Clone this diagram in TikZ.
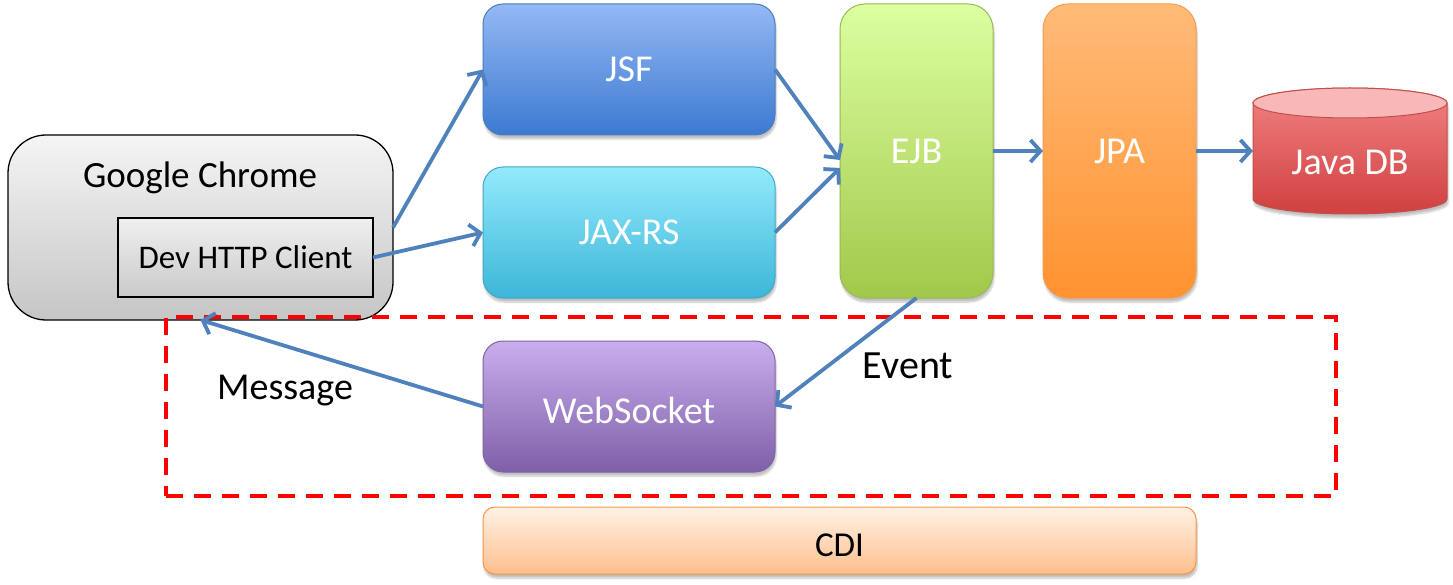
\documentclass[tikz,border=0pt]{standalone}
\usepackage{fontspec}
\setmainfont{Carlito}
\usetikzlibrary{arrows.meta,shadows.blur}
\definecolor{arrblue}{HTML}{4F81BD}
\tikzset{
  box/.style={rectangle, rounded corners=20pt, inner sep=0pt, outer sep=0pt, line width=1pt,
    blur shadow={shadow xshift=1pt, shadow yshift=-4pt, shadow blur steps=6, shadow opacity=25}},
  wtxt/.style={text=white, font=\fontsize{38}{44}\selectfont},
  btxt/.style={text=black, font=\fontsize{37}{44}\selectfont},
  arr/.style={draw=arrblue, line width=3.8pt, -{Straight Barb[length=10pt,width=22pt]}},
}
\begin{document}
\begin{tikzpicture}[x=1pt,y=1pt]
\useasboundingbox (0,0) rectangle (1453,-585);
% Google Chrome
\node[rectangle, rounded corners=38pt, draw=black, line width=1.3pt, top color=gray!8, bottom color=gray!45,
  minimum width=385pt, minimum height=185pt, inner sep=0pt, outer sep=0pt] (gc) at (200.5,-227.5) {};
\node[btxt, font=\fontsize{37}{42}\selectfont] (gctext) at (200,-178) {Google Chrome};
\node[rectangle, draw=black, line width=1.3pt, top color=gray!12, bottom color=gray!42,
  minimum width=255pt, minimum height=79pt, inner sep=0pt, outer sep=0pt,
  font=\fontsize{33}{38}\selectfont] (dev) at (245.5,-257.5) {Dev HTTP Client};
% JSF, JAX-RS
\node[box, draw={rgb,255:red,74;green,126;blue,187}, top color={rgb,255:red,148;green,184;blue,244}, bottom color={rgb,255:red,60;green,122;blue,208},
  minimum width=292pt, minimum height=131pt, wtxt] (jsf) at (629,-69.5) {JSF};
\node[box, draw={rgb,255:red,64;green,168;blue,200}, top color={rgb,255:red,147;green,234;blue,252}, bottom color={rgb,255:red,60;green,182;blue,216},
  minimum width=292pt, minimum height=131pt, wtxt] (jaxrs) at (629,-232.5) {JAX-RS};
% EJB, JPA
\node[box, rounded corners=25pt, draw={rgb,255:red,152;green,185;blue,84}, top color={rgb,255:red,220;green,255;blue,160}, bottom color={rgb,255:red,162;green,200;blue,74},
  minimum width=153pt, minimum height=294pt, wtxt] (ejb) at (916.5,-151) {EJB};
\node[box, rounded corners=25pt, draw={rgb,255:red,245;green,157;blue,86}, top color={rgb,255:red,255;green,187;blue,120}, bottom color={rgb,255:red,255;green,146;blue,48},
  minimum width=153pt, minimum height=294pt, wtxt] (jpa) at (1119.5,-151) {JPA};
% Java DB cylinder
\shade[top color={rgb,255:red,242;green,130;blue,130}, bottom color={rgb,255:red,208;green,64;blue,64}, draw={rgb,255:red,192;green,80;blue,77}, line width=1pt,
  blur shadow={shadow xshift=1pt, shadow yshift=-4pt, shadow blur steps=6, shadow opacity=25}]
  (1253,-103) -- (1253,-199) arc[start angle=180,end angle=360,x radius=97,y radius=15]
  -- (1447,-103) arc[start angle=0,end angle=180,x radius=97,y radius=15] -- cycle;
\filldraw[fill={rgb,255:red,249;green,184;blue,184}, draw={rgb,255:red,192;green,80;blue,77}, line width=1pt]
  (1350,-103) ellipse[x radius=97, y radius=15];
\node[wtxt] (dbtext) at (1350,-162) {Java DB};
\coordinate (dbw) at (1253,-151);
% WebSocket
\node[box, draw={rgb,255:red,128;green,100;blue,162}, top color={rgb,255:red,201;green,174;blue,237}, bottom color={rgb,255:red,127;green,95;blue,168},
  minimum width=292pt, minimum height=131pt, inner sep=0pt] (ws) at (629,-406.5) {};
\node[wtxt] (wstext) at (629,-410) {WebSocket};
% CDI
\node[box, rounded corners=12pt, draw={rgb,255:red,247;green,150;blue,70}, top color={rgb,255:red,255;green,242;blue,230}, bottom color={rgb,255:red,255;green,191;blue,140},
  minimum width=713pt, minimum height=67pt] (cdi) at (839.5,-540.5) {};
\node[btxt, font=\fontsize{35}{42}\selectfont] (cditext) at (839.5,-545) {CDI};
% dashed group
\node[draw=red, line width=4pt, dash pattern=on 17pt off 11pt, rectangle, inner sep=0pt,
  minimum width=1170pt, minimum height=179pt] (grp) at (751,-406.5) {};
% labels
\node[btxt, font=\fontsize{38}{42}\selectfont] (msg) at (285,-391) {Message};
\node[btxt, font=\fontsize{40}{44}\selectfont] (evt) at (908,-366) {Event};
% arrows
\draw[arr] (gc.east) -- (jsf.west);
\draw[arr] (dev.east) -- (jaxrs.west);
\draw[arr] (jsf.east) -- ([yshift=-9pt]ejb.west);
\draw[arr] (jaxrs.east) -- ([yshift=-17pt]ejb.west);
\draw[arr] (ejb.east) -- (jpa.west);
\draw[arr] (jpa.east) -- (dbw);
\draw[arr] (ejb.south) -- (ws.east);
\draw[arr] (ws.west) -- (gc.south);
\end{tikzpicture}
\end{document}
